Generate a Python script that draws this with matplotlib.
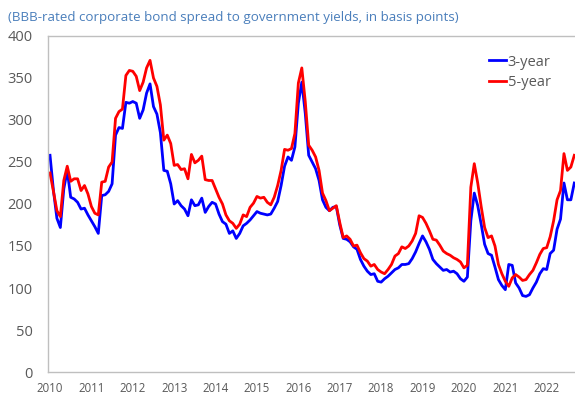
import numpy as np
import matplotlib.pyplot as plt

plt.rcParams['font.family'] = ['Open Sans', 'DejaVu Sans']

# Monthly spreads, Jan 2010 onwards (basis points)
start_year = 2010
spread_3y = [258, 216, 183, 172, 218, 240, 208, 206, 202, 194, 195, 187,
             180, 173, 165, 210, 211, 215, 224, 282, 291, 290, 321, 320,
             322, 320, 302, 312, 332, 343, 316, 307, 285, 240, 239, 224,
             200, 204, 198, 194, 186, 205, 198, 199, 207, 190, 197, 202,
             200, 188, 179, 176, 165, 168, 159, 165, 174, 177, 181, 186,
             191, 189, 188, 187, 188, 195, 203, 222, 245, 256, 252, 268,
             320, 345, 308, 258, 250, 242, 228, 205, 196, 192, 196, 197,
             175, 159, 158, 155, 149, 146, 134, 126, 120, 116, 117, 108,
             107, 111, 114, 118, 122, 124, 128, 128, 129, 135, 143, 153,
             162, 155, 146, 134, 129, 125, 121, 122, 119, 120, 117, 111,
             108, 113, 180, 213, 198, 176, 152, 141, 139, 125, 110, 103,
             98, 128, 127, 106, 100, 91, 90, 92, 100, 107, 117, 123,
             122, 141, 145, 170, 182, 225, 205, 205, 225]
spread_5y = [237, 215, 192, 185, 228, 245, 227, 230, 230, 216, 222, 212,
             197, 189, 187, 226, 227, 244, 250, 302, 310, 313, 353, 359,
             358, 352, 335, 345, 362, 371, 350, 340, 318, 276, 282, 272,
             246, 247, 241, 242, 230, 259, 249, 252, 257, 229, 228, 228,
             218, 208, 200, 187, 180, 177, 171, 176, 187, 185, 196, 201,
             209, 207, 208, 202, 199, 208, 222, 240, 265, 264, 266, 284,
             344, 362, 322, 270, 264, 256, 240, 213, 204, 192, 195, 198,
             178, 160, 162, 158, 150, 151, 142, 135, 132, 126, 128, 122,
             119, 117, 122, 128, 138, 141, 149, 147, 150, 156, 165, 186,
             184, 177, 168, 158, 157, 151, 144, 141, 139, 136, 134, 131,
             124, 127, 220, 248, 225, 197, 172, 160, 162, 150, 128, 117,
             108, 102, 112, 116, 113, 109, 110, 116, 121, 130, 140, 147,
             148, 161, 180, 205, 216, 260, 240, 244, 258]
year_labels = list(range(2010, 2023))

t = start_year + np.arange(len(spread_3y)) / 12

fig = plt.figure(figsize=(5.75, 3.96), dpi=100)
ax = fig.add_axes([48 / 575, 24 / 396, 527 / 575, 336 / 396])

ax.plot(t, spread_3y, color="#0000FF", lw=2.0, label="3-year")
ax.plot(t, spread_5y, color="#FF0000", lw=2.0, label="5-year")

ax.set_xlim(start_year - 0.58 / 12, start_year + 152.2 / 12)
ax.set_ylim(0, 400)
ax.set_yticks(range(0, 401, 50))
ax.set_xticks(year_labels)
ax.set_xticklabels([str(y) for y in year_labels])
ax.tick_params(axis="y", length=0, pad=11, labelsize=10.5, labelcolor="#595959")
ax.tick_params(axis="x", length=0, pad=7, labelsize=8.3, labelcolor="#595959")

for side in ["left", "top", "bottom"]:
    ax.spines[side].set_color("#BFBFBF")
    ax.spines[side].set_linewidth(1.0)
ax.spines["right"].set_visible(False)

leg = ax.legend(loc="upper right", bbox_to_anchor=(0.965, 0.962), frameon=False,
                fontsize=10.5, handlelength=1.2, handletextpad=0.1,
                labelspacing=0.35, borderaxespad=0)
for txt in leg.get_texts():
    txt.set_color("#595959")

fig.text(8 / 575, 1 - 18 / 396,
         "(BBB-rated corporate bond spread to government yields, in basis points)",
         fontsize=9.6, color="#4A7EBB", va="center", ha="left")

plt.savefig("out.png", dpi=100)
